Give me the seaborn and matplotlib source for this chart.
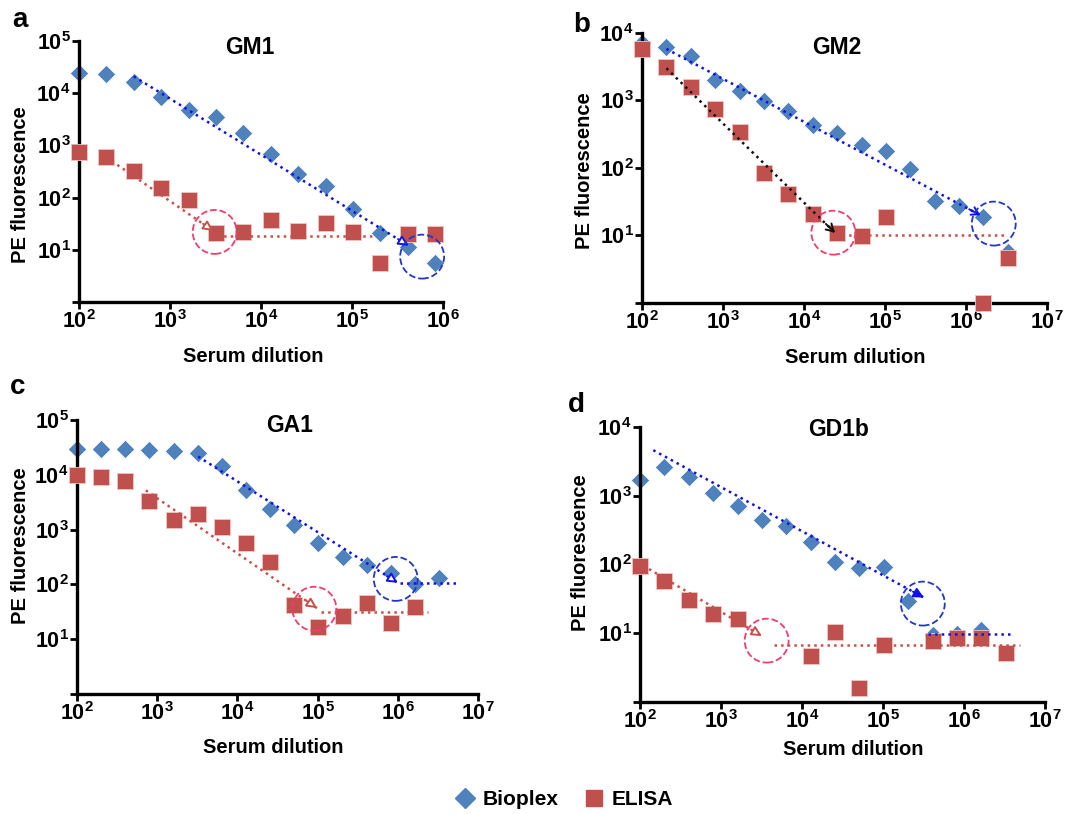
import numpy as np
import pandas as pd
import matplotlib
matplotlib.use("Agg")
import matplotlib.pyplot as plt
import seaborn as sns
from matplotlib.lines import Line2D
from matplotlib.ticker import NullLocator

nan = np.nan

# serum dilutions (two-fold series)
dilution = [100, 200, 400, 800, 1600, 3200, 6400, 12800, 25600, 51200,
            102400, 204800, 409600, 819200, 1638400, 3276800]

# PE fluorescence
gm1_bioplex = [24000, 23500, 16700, 8500, 4800, 3500, 1700, 680, 280, 170, 60, 21, 11.5, 5.6]
gm1_elisa = [740, 590, 330, 150, 91, 21, 22, 37, 23, 33, 22, 5.6, 20, 20]

gm2_bioplex = [7000, 6300, 4600, 2000, 1400, 970, 690, 440, 325, 220, 180, 95, 32, 27, 18.5, 5.7]
gm2_elisa = [5700, 3100, 1600, 750, 340, 83, 41, 21, 11, 9.7, 18.6, nan, nan, nan, 1.0, 4.6]

ga1_bioplex = [29000, 29000, 29000, 28000, 27500, 25500, 14300, 5200, 2400, 1240, 570, 315, 230, 160, 100, 130]
ga1_elisa = [10000, 9100, 7600, 3300, 1500, 1900, 1100, 570, 260, 43, 17, 26, 46, 20, 39, nan]

gd1b_bioplex = [1700, 2600, 1900, 1090, 720, 440, 365, 215, 110, 89, 91, 29, 9.4, 9.7, 11, nan]
gd1b_elisa = [96, 57, 30, 19, 16, nan, nan, 4.7, 10.5, 1.6, 6.8, nan, 7.8, 8.6, 8.5, 5.2]

# hand-drawn guide lines: (start, end, colour key, head style)
gm1_arrows = [((400, 21000), (4.2e5, 12), "blue", "open"),
              ((200, 590), (3000, 23), "red", "open")]
gm1_flat = [((3300, 18.6), (1.67e5, 18.6), "red")]
gm1_circles = [((3100, 22), "pink"), ((5.9e5, 7.4), "navy")]

gm2_arrows = [((200, 5800), (1.5e6, 20), "blue", "chevron"),
              ((200, 3000), (2.4e4, 11), "black", "chevron")]
gm2_flat = [((2.9e4, 10), (2.9e6, 10), "red")]
gm2_circles = [((2.3e4, 11), "pink"), ((2.2e6, 15), "navy")]

ga1_arrows = [((3240, 21500), (1.0e6, 107), "blue", "open"),
              ((720, 5200), (9.8e4, 37), "red", "open")]
ga1_flat = [((1.05e6, 107), (5.6e6, 107), "blue"),
            ((1.1e5, 31), (2.4e6, 31), "red")]
ga1_circles = [((9.1e4, 36), "pink"), ((9.4e5, 126), "navy")]

gd1b_arrows = [((146, 4600), (3.2e5, 33), "blue", "filled"),
               ((110, 96), (3200, 9.1), "red", "open")]
gd1b_flat = [((3.6e5, 9.7), (3.7e6, 9.7), "blue"),
             ((4500, 6.8), (4.9e6, 6.8), "red")]
gd1b_circles = [((3660, 7.8), "pink"), ((3.1e5, 27), "navy")]

BIO = "#4f81bd"
ELI = "#c0504d"
line_col = {"blue": "#1010f0", "red": "#c8504a", "black": "#111111"}
circ_col = {"pink": "#f03c6e", "navy": "#2236cc"}

sns.set_style("ticks")
plt.rcParams["font.family"] = ["Liberation Sans", "DejaVu Sans"]
plt.rcParams["font.weight"] = "bold"
plt.rcParams["mathtext.fontset"] = "custom"
plt.rcParams["mathtext.bf"] = "Liberation Sans:bold"
plt.rcParams["mathtext.rm"] = "Liberation Sans:bold"
for k in ["text.color", "axes.labelcolor", "xtick.color", "ytick.color"]:
    plt.rcParams[k] = "black"

fig = plt.figure(figsize=(10.76, 8.14), dpi=100)

panels = [
    dict(title="GM1", letter="a", bio=gm1_bioplex, eli=gm1_elisa, xmax=6, ymax=5,
         rect=[0.0734, 0.629, 0.3383, 0.3206], letter_xy=(0.0186, 0.975),
         title_xy=(0.47, 0.977), ylab=(-0.135, 0.45), xlab=(0.48, -0.172),
         arrows=gm1_arrows, flat=gm1_flat, circles=gm1_circles),
    dict(title="GM2", letter="b", bio=gm2_bioplex, eli=gm2_elisa, xmax=7, ymax=4,
         rect=[0.5967, 0.6278, 0.3764, 0.3317], letter_xy=(0.541, 0.969),
         title_xy=(0.48, 0.948), ylab=(-0.118, 0.49), xlab=(0.526, -0.167),
         arrows=gm2_arrows, flat=gm2_flat, circles=gm2_circles),
    dict(title="GA1", letter="c", bio=ga1_bioplex, eli=ga1_elisa, xmax=7, ymax=5,
         rect=[0.0716, 0.1474, 0.3727, 0.3366], letter_xy=(0.0167, 0.525),
         title_xy=(0.53, 0.98), ylab=(-0.117, 0.54), xlab=(0.49, -0.16),
         arrows=ga1_arrows, flat=ga1_flat, circles=ga1_circles),
    dict(title="GD1b", letter="d", bio=gd1b_bioplex, eli=gd1b_elisa, xmax=7, ymax=4,
         rect=[0.5948, 0.1376, 0.3764, 0.3378], letter_xy=(0.536, 0.502),
         title_xy=(0.49, 0.99), ylab=(-0.123, 0.545), xlab=(0.526, -0.138),
         arrows=gd1b_arrows, flat=gd1b_flat, circles=gd1b_circles),
]


def draw_arrow(ax, start, end, color, head):
    ax.plot([start[0], end[0]], [start[1], end[1]], ls=":", color=color, lw=1.8, zorder=4)
    p0 = ax.transData.transform(start)
    p1 = ax.transData.transform(end)
    d = (p1 - p0) / np.hypot(*(p1 - p0))
    off = -d * 9
    if head == "chevron":
        style = "->,head_length=0.5,head_width=0.3"
        fc = color
    else:
        style = "-|>,head_length=0.6,head_width=0.3"
        fc = color if head == "filled" else "white"
    ax.annotate("", xy=end, xytext=(off[0], off[1]), textcoords="offset points",
                arrowprops=dict(arrowstyle=style, color=color, fc=fc, lw=1.4,
                                shrinkA=0, shrinkB=0), zorder=5)


for p in panels:
    ax = fig.add_axes(p["rect"])
    n = len(p["bio"])
    df = pd.DataFrame({"dilution": dilution[:n], "Bioplex": p["bio"], "ELISA": p["eli"]})
    df = df.melt(id_vars="dilution", var_name="assay", value_name="fluor").dropna()

    sns.scatterplot(data=df[df["assay"] == "Bioplex"], x="dilution", y="fluor",
                    marker="D", color=BIO, s=88, edgecolor="white", linewidth=0.5,
                    clip_on=False, legend=False, ax=ax, zorder=2)
    sns.scatterplot(data=df[df["assay"] == "ELISA"], x="dilution", y="fluor",
                    marker="s", color=ELI, s=120, edgecolor="#f2c4c2", linewidth=0.6,
                    clip_on=False, legend=False, ax=ax, zorder=3)

    ax.set_xscale("log")
    ax.set_yscale("log")
    ax.set_xlim(1e2, 10 ** p["xmax"])
    ax.set_ylim(1, 10 ** p["ymax"])

    xt = list(range(2, p["xmax"] + 1))
    ax.set_xticks([10.0 ** e for e in xt])
    ax.set_xticklabels([r"$\mathbf{10^{%d}}$" % e for e in xt])
    yt = list(range(0, p["ymax"] + 1))
    ax.set_yticks([10.0 ** e for e in yt])
    ax.set_yticklabels(["" if e == 0 else r"$\mathbf{10^{%d}}$" % e for e in yt])
    ax.xaxis.set_minor_locator(NullLocator())
    ax.yaxis.set_minor_locator(NullLocator())
    ax.tick_params(axis="both", labelsize=15.5, width=2, length=5, pad=1, color="black")

    for s in ["top", "right"]:
        ax.spines[s].set_visible(False)
    for s in ["left", "bottom"]:
        ax.spines[s].set_linewidth(2.4)
        ax.spines[s].set_color("black")

    ax.set_xlabel("Serum dilution", fontsize=14.5, fontweight="bold")
    ax.set_ylabel("PE fluorescence", fontsize=14.5, fontweight="bold")
    ax.xaxis.set_label_coords(*p["xlab"])
    ax.yaxis.set_label_coords(*p["ylab"])

    ax.text(p["title_xy"][0], p["title_xy"][1], p["title"], transform=ax.transAxes,
            ha="center", va="center", fontsize=16.5, fontweight="bold")
    fig.text(p["letter_xy"][0], p["letter_xy"][1], p["letter"], ha="center", va="center",
             fontsize=20, fontweight="bold")

    for start, end, c in p["flat"]:
        ax.plot([start[0], end[0]], [start[1], end[1]], ls=":", color=line_col[c], lw=1.8, zorder=4)
    for start, end, c, head in p["arrows"]:
        draw_arrow(ax, start, end, line_col[c], head)
    for (cx, cy), c in p["circles"]:
        ax.scatter([cx], [cy], s=1000, marker="o", facecolors="none", edgecolors=circ_col[c],
                   linestyles="--", linewidths=1.3, clip_on=False, zorder=6)

handles = [Line2D([], [], marker="D", color=BIO, ls="none", markersize=10, label="Bioplex"),
           Line2D([], [], marker="s", color=ELI, ls="none", markersize=11, label="ELISA")]
fig.legend(handles=handles, loc="center", bbox_to_anchor=(0.522, 0.018), ncol=2,
           frameon=False, fontsize=15, handletextpad=0.15, columnspacing=1.0,
           handlelength=1.4)

fig.savefig("out.png", dpi=100)
